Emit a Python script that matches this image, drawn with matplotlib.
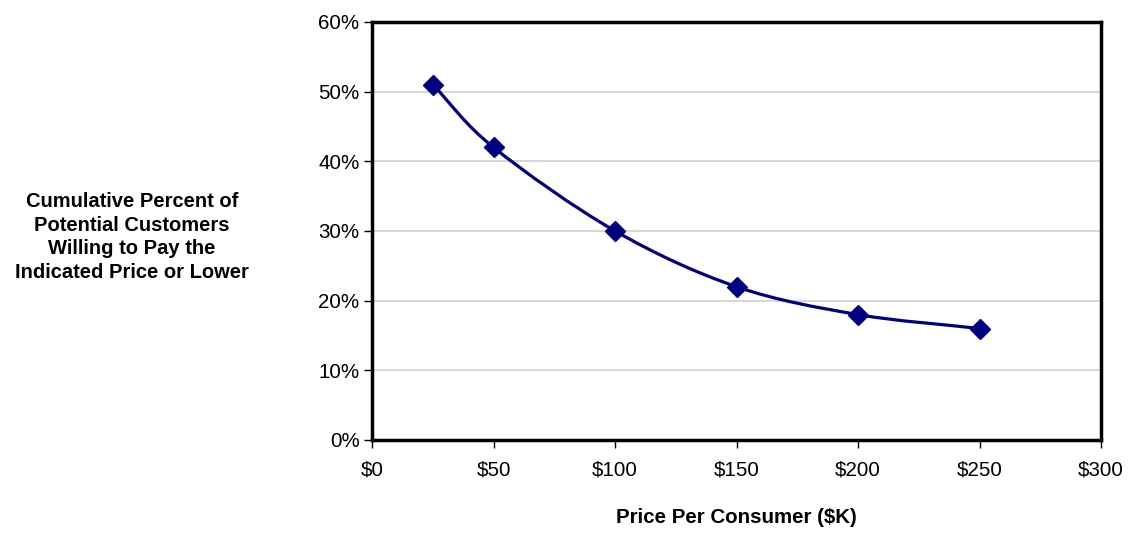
import numpy as np
import matplotlib
matplotlib.use("Agg")
from matplotlib import pyplot as plt
from matplotlib.path import Path
from matplotlib.patches import PathPatch
from matplotlib.ticker import FuncFormatter

plt.rcParams['font.family'] = ['Liberation Sans', 'DejaVu Sans']

# price in $K and cumulative share of customers willing to pay it
price = [25, 50, 100, 150, 200, 250]
share = [0.51, 0.42, 0.30, 0.22, 0.18, 0.16]

navy = "#000080"

fig = plt.figure(figsize=(11.43, 5.4), dpi=100)
ax = fig.add_axes([0.3255, 0.1852, 0.6378, 0.7741])

# smoothed line: Catmull-Rom segments expressed as cubic Bezier curves
x = np.array(price, dtype=float)
y = np.array(share, dtype=float)
xp = np.concatenate([[2 * x[0] - x[1]], x, [2 * x[-1] - x[-2]]])
yp = np.concatenate([[2 * y[0] - y[1]], y, [2 * y[-1] - y[-2]]])
verts = [(x[0], y[0])]
codes = [Path.MOVETO]
t = 1 / 6.0
for i in range(1, len(xp) - 2):
    c1 = (xp[i] + (xp[i + 1] - xp[i - 1]) * t, yp[i] + (yp[i + 1] - yp[i - 1]) * t)
    c2 = (xp[i + 1] - (xp[i + 2] - xp[i]) * t, yp[i + 1] - (yp[i + 2] - yp[i]) * t)
    verts += [c1, c2, (xp[i + 1], yp[i + 1])]
    codes += [Path.CURVE4] * 3
ax.add_patch(PathPatch(Path(verts, codes), facecolor="none", edgecolor=navy,
                       lw=2.3, zorder=3))
ax.plot(price, share, ls="none", marker="D", ms=10, color=navy, zorder=4)

ax.set_xlim(0, 300)
ax.set_ylim(0, 0.6)
ax.set_xticks(np.arange(0, 301, 50))
ax.set_yticks(np.arange(0, 0.61, 0.1))
ax.xaxis.set_major_formatter(FuncFormatter(lambda v, p: "$%d" % v))
ax.yaxis.set_major_formatter(FuncFormatter(lambda v, p: "%d%%" % round(v * 100)))
ax.grid(axis="y", color="#d0d0d0", lw=1.2)
ax.set_axisbelow(True)
for s in ax.spines.values():
    s.set_linewidth(2.5)
ax.tick_params(direction="out", length=6, width=1, labelsize=14.8, pad=3)
ax.tick_params(axis="x", pad=9)

ax.set_xlabel("Price Per Consumer ($K)", fontsize=14.8, fontweight="bold", labelpad=20)
fig.text(0.1155, 0.561, "Cumulative Percent of\nPotential Customers\nWilling to Pay the\nIndicated Price or Lower",
         ha="center", va="center", fontsize=14.5, fontweight="bold", linespacing=1.32)

fig.savefig("out.png", dpi=100)
